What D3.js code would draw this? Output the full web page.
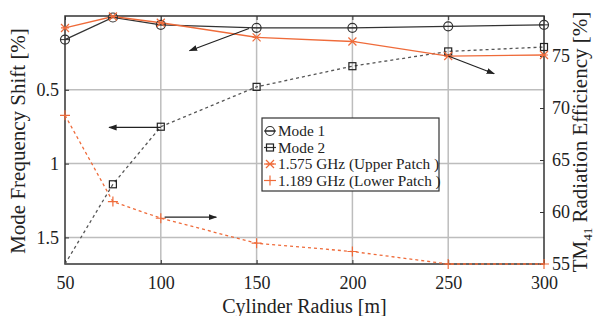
<!DOCTYPE html>
<html>
<head>
<meta charset="utf-8">
<script src="https://cdn.jsdelivr.net/npm/d3@7"></script>
<style>
  body { margin: 0; background: #fff; }
  svg text { font-family: "Liberation Serif", "DejaVu Serif", serif; fill: #222; }
</style>
</head>
<body>
<svg id="chart" width="595" height="316"></svg>
<script>
// data
var radius = [50, 75, 100, 150, 200, 250, 300];
var mode1 = [0.16, 0.01, 0.06, 0.08, 0.08, 0.07, 0.06];     // left axis
var mode2 = [1.68, 1.14, 0.75, 0.48, 0.34, 0.24, 0.21];     // left axis
var upper = [77.7, 78.8, 78.2, 76.8, 76.4, 75.0, 75.1];     // right axis
var lower = [69.3, 61.0, 59.4, 57.0, 56.2, 55.0, 55.0];     // right axis
var xTicks = [50, 100, 150, 200, 250, 300];
var leftTicks = [0.5, 1, 1.5];
var rightTicks = [55, 60, 65, 70, 75];

var orange = "#ef6b3a";

var margin = {top: 16, right: 51, bottom: 52, left: 65},
    width = 595 - margin.left - margin.right,
    height = 316 - margin.top - margin.bottom;

var svg = d3.select("#chart")
    .append("g")
    .attr("transform", "translate(" + margin.left + "," + margin.top + ")");

var x = d3.scaleLinear().domain([50, 300]).range([0, width]);
var yL = d3.scaleLinear().domain([0, 1.68]).range([0, height]);
var yR = d3.scaleLinear().domain([55, 78.85]).range([height, 0]);

// grid
svg.append("g").selectAll("line")
    .data(xTicks.slice(1, -1))
    .enter().append("line")
    .attr("x1", (d) => x(d)).attr("x2", (d) => x(d))
    .attr("y1", 0).attr("y2", height)
    .attr("stroke", "#bdbdbd").attr("stroke-width", 1.5);
svg.append("g").selectAll("line")
    .data(leftTicks)
    .enter().append("line")
    .attr("y1", (d) => yL(d)).attr("y2", (d) => yL(d))
    .attr("x1", 0).attr("x2", width)
    .attr("stroke", "#bdbdbd").attr("stroke-width", 1.5);

// axes
var bottomAxis = svg.append("g")
    .attr("transform", "translate(0," + height + ")")
    .call(d3.axisBottom(x).tickValues(xTicks).tickSizeInner(-4).tickSizeOuter(0).tickPadding(12));
var topAxis = svg.append("g")
    .call(d3.axisTop(x).tickValues(xTicks).tickSizeInner(-4).tickSizeOuter(0).tickFormat(""));
var leftAxis = svg.append("g")
    .call(d3.axisLeft(yL).tickValues(leftTicks).tickSizeInner(-4).tickSizeOuter(0).tickPadding(6)
        .tickFormat(d3.format("")));
var rightAxis = svg.append("g")
    .attr("transform", "translate(" + width + ",0)")
    .call(d3.axisRight(yR).tickValues(rightTicks).tickSizeInner(-4).tickSizeOuter(0).tickPadding(8));

[bottomAxis, topAxis, leftAxis, rightAxis].forEach(function(a) {
    a.selectAll("text").style("font-size", "18px").attr("fill", "#222");
    a.selectAll("line").attr("stroke", "#333");
    a.select(".domain").remove();
});

svg.append("rect")
    .attr("width", width).attr("height", height)
    .attr("fill", "none").attr("stroke", "#333").attr("stroke-width", 1.5);

// lines
var lineL = (vals) => d3.line().x((d, i) => x(radius[i])).y((d) => yL(d))(vals);
var lineR = (vals) => d3.line().x((d, i) => x(radius[i])).y((d) => yR(d))(vals);

svg.append("path").attr("d", lineL(mode1))
    .attr("fill", "none").attr("stroke", "#333").attr("stroke-width", 1.2);
svg.append("path").attr("d", lineL(mode2))
    .attr("fill", "none").attr("stroke", "#555").attr("stroke-width", 1.3).attr("stroke-dasharray", "3,3");
svg.append("path").attr("d", lineR(upper))
    .attr("fill", "none").attr("stroke", orange).attr("stroke-width", 1.3);
svg.append("path").attr("d", lineR(lower))
    .attr("fill", "none").attr("stroke", orange).attr("stroke-width", 1.3).attr("stroke-dasharray", "3,3");

// markers
function circleMark(g, cx, cy) {
    g.append("circle").attr("cx", cx).attr("cy", cy).attr("r", 4.5)
        .attr("fill", "none").attr("stroke", "#333").attr("stroke-width", 1.2);
    g.append("line").attr("x1", cx - 4.5).attr("x2", cx + 4.5).attr("y1", cy).attr("y2", cy)
        .attr("stroke", "#333").attr("stroke-width", 1);
}
function squareMark(g, cx, cy) {
    g.append("rect").attr("x", cx - 3.5).attr("y", cy - 3.5).attr("width", 7).attr("height", 7)
        .attr("fill", "none").attr("stroke", "#222").attr("stroke-width", 1.2);
}
function starMark(g, cx, cy) {
    var r = 4;
    g.append("path")
        .attr("d", "M" + (cx - r) + "," + (cy - r) + "L" + (cx + r) + "," + (cy + r) +
                   "M" + (cx - r) + "," + (cy + r) + "L" + (cx + r) + "," + (cy - r) +
                   "M" + (cx - r) + "," + cy + "L" + (cx + r) + "," + cy)
        .attr("stroke", orange).attr("stroke-width", 1.2);
}
function plusMark(g, cx, cy) {
    var r = 5;
    g.append("path")
        .attr("d", "M" + (cx - r) + "," + cy + "L" + (cx + r) + "," + cy +
                   "M" + cx + "," + (cy - r) + "L" + cx + "," + (cy + r))
        .attr("stroke", orange).attr("stroke-width", 1.2);
}

var marks = svg.append("g");
radius.forEach(function(r, i) {
    circleMark(marks, x(r), yL(mode1[i]));
    if (i > 0) squareMark(marks, x(r), yL(mode2[i]));
    starMark(marks, x(r), yR(upper[i]));
    plusMark(marks, x(r), yR(lower[i]));
});

// arrows pointing to the axis each curve belongs to
svg.append("defs").append("marker")
    .attr("id", "head").attr("viewBox", "0 0 10 10")
    .attr("refX", 9).attr("refY", 5)
    .attr("markerWidth", 7).attr("markerHeight", 7)
    .attr("orient", "auto")
    .append("path").attr("d", "M0,1.5L10,5L0,8.5Z").attr("fill", "#222");

var arrows = [
    {x1: 146, y1: yL(0.085), x2: 115, y2: yL(0.235)},
    {x1: 100, y1: yL(0.755), x2: 73, y2: yL(0.755)},
    {x1: 250, y1: yR(75.0), x2: 274, y2: yR(73.3)},
    {x1: 102, y1: yR(59.5), x2: 129, y2: yR(59.5)}
];
svg.append("g").selectAll("line")
    .data(arrows).enter().append("line")
    .attr("x1", (d) => x(d.x1)).attr("y1", (d) => d.y1)
    .attr("x2", (d) => x(d.x2)).attr("y2", (d) => d.y2)
    .attr("stroke", "#222").attr("stroke-width", 1.2)
    .attr("marker-end", "url(#head)");

// legend
var legendItems = [
    {name: "Mode 1", mark: circleMark, color: "#333"},
    {name: "Mode 2", mark: squareMark, color: "#333"},
    {name: "1.575 GHz (Upper Patch )", mark: starMark, color: orange},
    {name: "1.189 GHz (Lower Patch )", mark: plusMark, color: orange}
];
var legend = svg.append("g").attr("transform", "translate(" + (262 - margin.left) + "," + (118 - margin.top) + ")");
legend.append("rect").attr("width", 177).attr("height", 73)
    .attr("fill", "#fff").attr("stroke", "#333").attr("stroke-width", 1.2);
legendItems.forEach(function(d, i) {
    var cy = 13 + i * 16.5;
    legend.append("line").attr("x1", 2).attr("x2", 14).attr("y1", cy).attr("y2", cy)
        .attr("stroke", d.color).attr("stroke-width", 1.2);
    d.mark(legend, 8, cy);
    legend.append("text").attr("x", 16).attr("y", cy + 5)
        .style("font-size", "15.3px").text(d.name);
});

// axis titles
svg.append("text")
    .attr("text-anchor", "middle")
    .attr("x", width / 2).attr("y", height + 49)
    .style("font-size", "20px")
    .text("Cylinder Radius [m]");

svg.append("text")
    .attr("text-anchor", "middle")
    .attr("transform", "translate(" + (25 - margin.left) + "," + (141 - margin.top) + ")rotate(-90)")
    .style("font-size", "21px")
    .text("Mode Frequency Shift [%]");

var rt = svg.append("text")
    .attr("text-anchor", "middle")
    .attr("transform", "translate(" + (587 - margin.left) + "," + (142 - margin.top) + ")rotate(-90)")
    .style("font-size", "21px");
rt.append("tspan").text("TM");
rt.append("tspan").attr("dy", 5).style("font-size", "13px").text("41");
rt.append("tspan").attr("dy", -5).text(" Radiation Efficiency [%]");
</script>
</body>
</html>
